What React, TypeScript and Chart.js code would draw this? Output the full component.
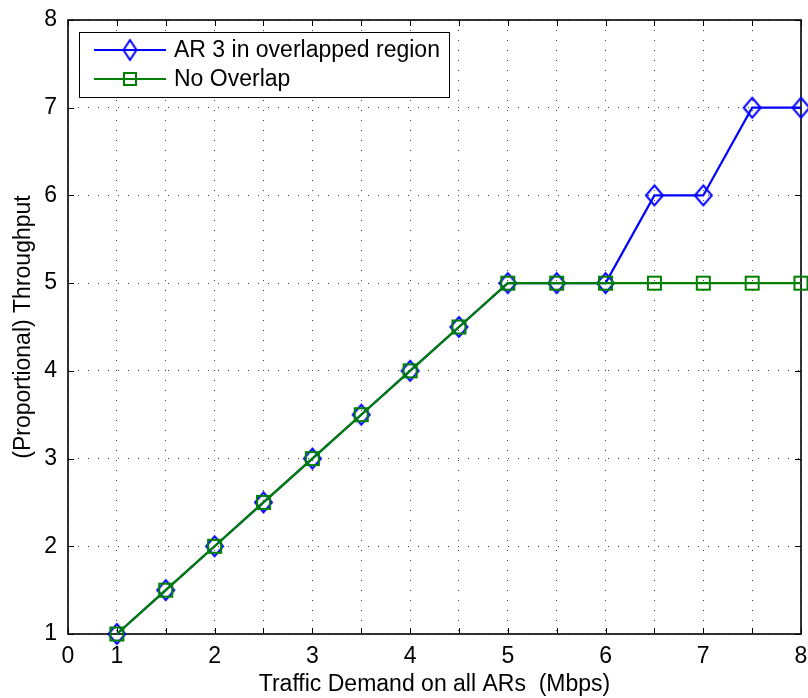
import React, { useEffect, useRef } from "react";
import { Chart, registerables } from "chart.js";

Chart.register(...registerables);

// Offered traffic per AR (Mbps)
const demand = [1, 1.5, 2, 2.5, 3, 3.5, 4, 4.5, 5, 5.5, 6, 6.5, 7, 7.5, 8];
// Throughput with AR 3 inside the overlapped region
const overlapThroughput = [1, 1.5, 2, 2.5, 3, 3.5, 4, 4.5, 5, 5, 5, 6, 6, 7, 7];
// Throughput without any overlap
const noOverlapThroughput = [1, 1.5, 2, 2.5, 3, 3.5, 4, 4.5, 5, 5, 5, 5, 5, 5, 5];

const xTickValues = [0.5, 1, 1.5, 2, 2.5, 3, 3.5, 4, 4.5, 5, 5.5, 6, 6.5, 7, 7.5, 8];
const xTickLabels = ["0", "1", "", "2", "", "3", "", "4", "", "5", "", "6", "", "7", "", "8"];
const yTickValues = [1, 2, 3, 4, 5, 6, 7, 8];

const seriesNames = ["AR 3 in overlapped region", "No Overlap"];
const BLUE = "#0000ff";
const GREEN = "#008000";
const FONT = "'Liberation Sans', Arial, Helvetica, sans-serif";
const FS = 23;

function makeDiamond(hw: number, hh: number, color: string) {
  const c = document.createElement("canvas");
  c.width = Math.ceil(hw * 2 + 4);
  c.height = Math.ceil(hh * 2 + 4);
  const g = c.getContext("2d")!;
  const cx = c.width / 2;
  const cy = c.height / 2;
  g.strokeStyle = color;
  g.lineWidth = 2;
  g.beginPath();
  g.moveTo(cx, cy - hh);
  g.lineTo(cx + hw, cy);
  g.lineTo(cx, cy + hh);
  g.lineTo(cx - hw, cy);
  g.closePath();
  g.stroke();
  return c;
}

function makeSquare(half: number, color: string) {
  const c = document.createElement("canvas");
  c.width = Math.ceil(half * 2 + 4);
  c.height = c.width;
  const g = c.getContext("2d")!;
  const cx = c.width / 2;
  g.strokeStyle = color;
  g.lineWidth = 2;
  g.strokeRect(cx - half, cx - half, half * 2, half * 2);
  return c;
}

export default function App() {
  const ref = useRef<HTMLCanvasElement | null>(null);

  useEffect(() => {
    document.body.style.margin = "0";
    const canvas = ref.current;
    if (!canvas) return;

    const diamond = makeDiamond(8.5, 10, BLUE);
    const square = makeSquare(6.5, GREEN);
    const legendDiamond = makeDiamond(6.5, 10, BLUE);
    const legendSquare = makeSquare(6, GREEN);

    // Axes box with inward tick marks on all four sides
    const framePlugin = {
      id: "frame",
      beforeDatasetsDraw(chart: any) {
        const { ctx, chartArea: a, scales } = chart;
        ctx.save();
        ctx.strokeStyle = "#000";
        ctx.lineWidth = 1;
        const tl = 6;
        ctx.beginPath();
        for (const v of xTickValues) {
          const px = Math.round(scales.x.getPixelForValue(v)) + 0.5;
          ctx.moveTo(px, a.bottom);
          ctx.lineTo(px, a.bottom - tl);
          ctx.moveTo(px, a.top);
          ctx.lineTo(px, a.top + tl);
        }
        for (const v of yTickValues) {
          const py = Math.round(scales.y.getPixelForValue(v)) + 0.5;
          ctx.moveTo(a.left, py);
          ctx.lineTo(a.left + tl, py);
          ctx.moveTo(a.right, py);
          ctx.lineTo(a.right - tl, py);
        }
        ctx.stroke();
        ctx.lineWidth = 1.6;
        ctx.strokeRect(a.left, a.top, a.right - a.left, a.bottom - a.top);
        ctx.restore();
      },
    };

    // Boxed legend in the upper-left corner of the axes
    const legendPlugin = {
      id: "boxLegend",
      afterDraw(chart: any) {
        const { ctx, chartArea: a } = chart;
        const x0 = a.left + 11;
        const y0 = a.top + 12;
        const w = 370;
        const h = 65;
        ctx.save();
        ctx.fillStyle = "#fff";
        ctx.fillRect(x0, y0, w, h);
        ctx.strokeStyle = "#000";
        ctx.lineWidth = 1;
        ctx.strokeRect(x0 + 0.5, y0 + 0.5, w, h);
        const rows = [
          { color: BLUE, img: legendDiamond, y: y0 + 18 },
          { color: GREEN, img: legendSquare, y: y0 + 47 },
        ];
        rows.forEach((r, i) => {
          ctx.strokeStyle = r.color;
          ctx.lineWidth = 2;
          ctx.beginPath();
          ctx.moveTo(x0 + 15, r.y);
          ctx.lineTo(x0 + 87, r.y);
          ctx.stroke();
          const mx = x0 + 51;
          ctx.drawImage(r.img, mx - r.img.width / 2, r.y - r.img.height / 2);
          ctx.fillStyle = "#000";
          ctx.font = `${FS}px ${FONT}`;
          ctx.textBaseline = "middle";
          ctx.textAlign = "left";
          ctx.fillText(seriesNames[i], x0 + 95, r.y + 1);
        });
        ctx.restore();
      },
    };

    const chart = new Chart(canvas, {
      type: "line",
      data: {
        datasets: [
          {
            label: seriesNames[0],
            data: demand.map((x, i) => ({ x, y: overlapThroughput[i] })),
            borderColor: BLUE,
            borderWidth: 2.2,
            pointStyle: diamond as any,
            pointRadius: 9,
            order: 1,
            clip: false as any,
          },
          {
            label: seriesNames[1],
            data: demand.map((x, i) => ({ x, y: noOverlapThroughput[i] })),
            borderColor: GREEN,
            borderWidth: 2.2,
            pointStyle: square as any,
            pointRadius: 8,
            order: 0,
            clip: false as any,
          },
        ],
      },
      options: {
        responsive: false,
        animation: false,
        layout: { autoPadding: false, padding: { top: 20, right: 7, left: 0, bottom: 0 } },
        plugins: { legend: { display: false }, tooltip: { enabled: false } },
        scales: {
          x: {
            type: "linear",
            min: 0.5,
            max: 8,
            afterBuildTicks(scale: any) {
              scale.ticks = xTickValues.map((v) => ({ value: v }));
            },
            afterFit(scale: any) {
              scale.height = 64;
              scale.paddingLeft = 0;
              scale.paddingRight = 0;
            },
            ticks: {
              autoSkip: false,
              maxRotation: 0,
              padding: 9,
              color: "#000",
              font: { family: FONT, size: FS },
              callback: (v: any) => {
                const i = xTickValues.indexOf(Number(v));
                return i >= 0 ? xTickLabels[i] : "";
              },
            },
            grid: { color: "rgba(0,0,0,0.75)", lineWidth: 1, drawTicks: false },
            border: { display: false, dash: [1, 9] },
            title: {
              display: true,
              text: "Traffic Demand on all ARs  (Mbps)",
              color: "#000",
              font: { family: FONT, size: FS },
              padding: { top: 0, bottom: 0 },
            },
          },
          y: {
            type: "linear",
            min: 1,
            max: 8,
            afterBuildTicks(scale: any) {
              scale.ticks = yTickValues.map((v) => ({ value: v }));
            },
            afterFit(scale: any) {
              scale.width = 68;
              scale.paddingTop = 0;
              scale.paddingBottom = 0;
            },
            ticks: {
              padding: 11,
              color: "#000",
              font: { family: FONT, size: FS },
            },
            grid: { color: "rgba(0,0,0,0.75)", lineWidth: 1, drawTicks: false },
            border: { display: false, dash: [1, 9] },
            title: {
              display: true,
              text: "(Proportional) Throughput",
              color: "#000",
              font: { family: FONT, size: FS },
              padding: { top: 10, bottom: 0 },
            },
          },
        },
      },
      plugins: [framePlugin, legendPlugin],
    });

    return () => chart.destroy();
  }, []);

  return <canvas ref={ref} width={808} height={698} style={{ display: "block" }} />;
}
